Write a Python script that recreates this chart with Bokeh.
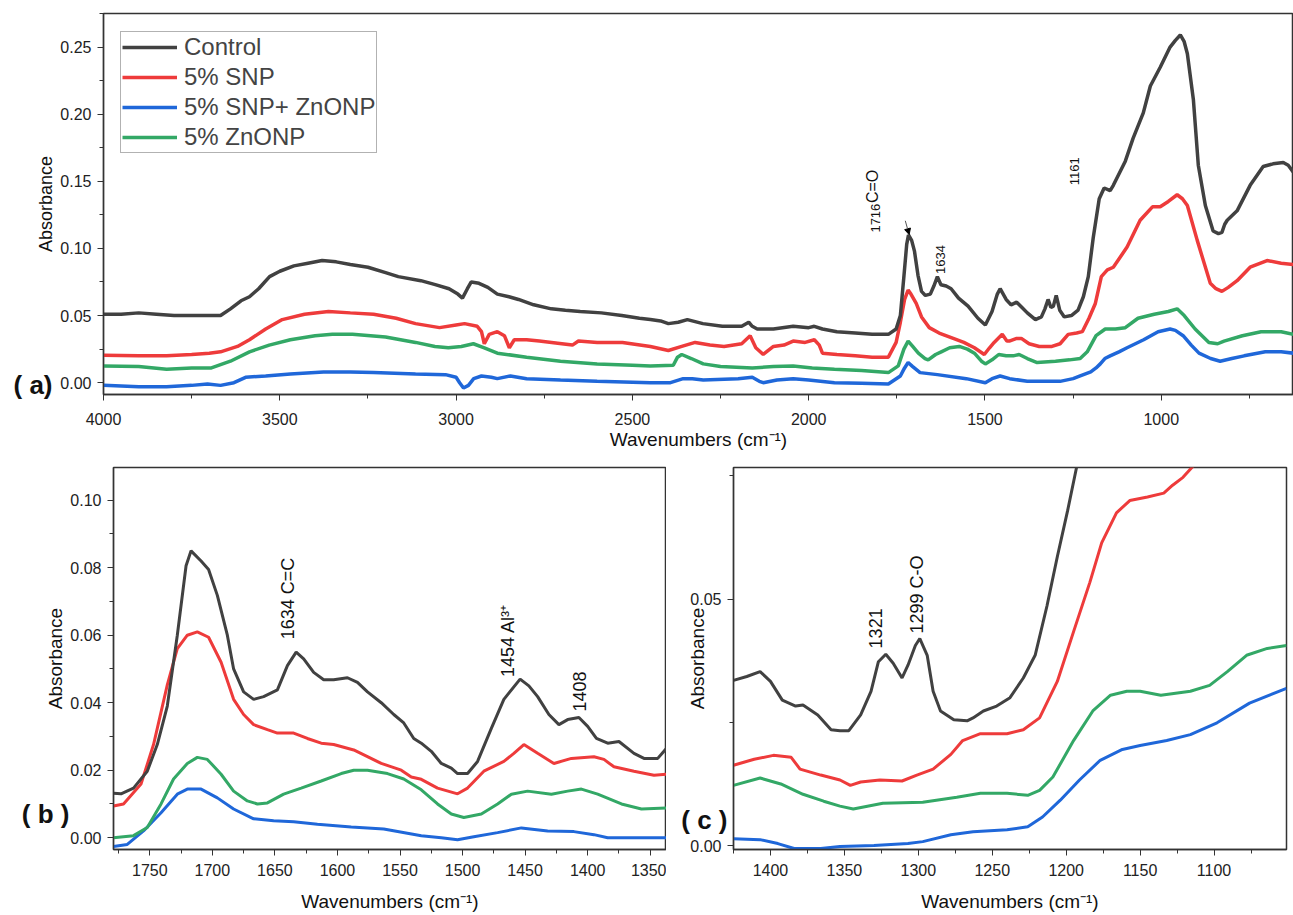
import math
from bokeh.plotting import figure
from bokeh.models import (Range1d, Legend, LegendItem, Label, Arrow, NormalHead, LinearAxis,
                          FixedTicker, SingleIntervalTicker, PrintfTickFormatter)
from bokeh.layouts import column, row
from bokeh.embed import file_html
from bokeh.resources import INLINE

FONT = "Liberation Sans"
C_CTRL = "#414141"
C_RED = "#ee3b3b"
C_BLUE = "#1f67d9"
C_GREEN = "#33a866"

series_names = ["Control", "5% SNP", "5% SNP+ ZnONP", "5% ZnONP"]
panel_tags = ["( a)", "( b )", "( c )"]

# ---------------- Panel (a): full spectra ----------------
ctrl_a_x = [4000, 3950, 3900, 3850, 3800, 3750, 3700, 3668, 3640, 3610, 3586, 3560, 3529, 3500, 3460, 3420,
            3380, 3340, 3300, 3250, 3200, 3164, 3100, 3059, 3020, 2995, 2982, 2968, 2957, 2935, 2910, 2883,
            2850, 2823, 2780, 2730, 2690, 2648, 2588, 2530, 2480, 2449, 2420, 2398, 2370, 2344, 2300, 2245,
            2190, 2170, 2160, 2146, 2100, 2044, 2000, 1984, 1961, 1920, 1868, 1820, 1774, 1752, 1740, 1730,
            1722, 1717, 1708, 1700, 1690, 1680, 1669, 1655, 1645, 1635, 1625, 1610, 1596, 1575, 1548, 1520,
            1499, 1480, 1465, 1457, 1440, 1426, 1410, 1395, 1380, 1357, 1340, 1330, 1321, 1313, 1306, 1298,
            1288, 1275, 1255, 1236, 1221, 1207, 1193, 1176, 1162, 1145, 1136, 1102, 1080, 1051, 1031, 1003,
            975, 960, 946, 935, 926, 909, 895, 875, 853, 838, 828, 820, 813, 785, 748, 711, 683, 654, 640, 626]
ctrl_a_y = [0.051, 0.051, 0.052, 0.051, 0.050, 0.050, 0.050, 0.050, 0.055, 0.061, 0.064, 0.070, 0.079, 0.083,
            0.087, 0.089, 0.091, 0.090, 0.088, 0.086, 0.082, 0.079, 0.076, 0.073, 0.070, 0.066, 0.063, 0.070,
            0.075, 0.074, 0.071, 0.066, 0.064, 0.062, 0.058, 0.055, 0.054, 0.053, 0.052, 0.050, 0.048, 0.047,
            0.046, 0.044, 0.045, 0.047, 0.044, 0.042, 0.042, 0.045, 0.042, 0.040, 0.040, 0.042, 0.041, 0.042,
            0.040, 0.038, 0.037, 0.036, 0.036, 0.040, 0.050, 0.079, 0.103, 0.110, 0.106, 0.098, 0.080, 0.068,
            0.065, 0.066, 0.072, 0.079, 0.073, 0.072, 0.070, 0.063, 0.057, 0.048, 0.043, 0.053, 0.066, 0.070,
            0.062, 0.058, 0.060, 0.056, 0.052, 0.047, 0.049, 0.055, 0.062, 0.056, 0.057, 0.065, 0.054, 0.049,
            0.050, 0.054, 0.064, 0.079, 0.108, 0.137, 0.145, 0.143, 0.147, 0.165, 0.182, 0.201, 0.221, 0.235,
            0.250, 0.255, 0.259, 0.254, 0.245, 0.211, 0.162, 0.132, 0.113, 0.111, 0.112, 0.118, 0.121, 0.128,
            0.147, 0.161, 0.163, 0.164, 0.162, 0.157]

red_a_x = [4000, 3900, 3821, 3750, 3700, 3668, 3620, 3586, 3540, 3493, 3430, 3362, 3300, 3234, 3170, 3115,
           3047, 3000, 2976, 2940, 2928, 2920, 2906, 2883, 2863, 2849, 2835, 2800, 2764, 2700, 2670, 2653,
           2600, 2528, 2449, 2398, 2360, 2322, 2280, 2240, 2190, 2166, 2150, 2129, 2100, 2070, 2044, 2010,
           1984, 1970, 1961, 1920, 1868, 1820, 1774, 1752, 1740, 1728, 1718, 1710, 1695, 1680, 1658, 1630,
           1590, 1560, 1530, 1502, 1487, 1474, 1451, 1438, 1431, 1410, 1397, 1375, 1346, 1310, 1287, 1264,
           1240, 1224, 1205, 1187, 1170, 1153, 1136, 1097, 1060, 1025, 1003, 980, 955, 940, 926, 898, 861,
           845, 828, 810, 785, 748, 700, 660, 626]
red_a_y = [0.0205, 0.020, 0.020, 0.021, 0.022, 0.023, 0.027, 0.032, 0.040, 0.047, 0.051, 0.053, 0.052, 0.051,
           0.048, 0.044, 0.041, 0.043, 0.044, 0.042, 0.038, 0.029, 0.036, 0.038, 0.035, 0.026, 0.032, 0.032,
           0.031, 0.029, 0.028, 0.031, 0.030, 0.030, 0.027, 0.024, 0.027, 0.030, 0.028, 0.027, 0.029, 0.035,
           0.026, 0.021, 0.027, 0.028, 0.031, 0.030, 0.032, 0.028, 0.022, 0.021, 0.020, 0.019, 0.019, 0.030,
           0.045, 0.062, 0.069, 0.066, 0.059, 0.049, 0.041, 0.037, 0.033, 0.030, 0.026, 0.021, 0.026, 0.030,
           0.036, 0.031, 0.031, 0.033, 0.033, 0.029, 0.027, 0.027, 0.029, 0.036, 0.037, 0.038, 0.048, 0.059,
           0.079, 0.084, 0.086, 0.101, 0.121, 0.131, 0.131, 0.135, 0.140, 0.137, 0.132, 0.106, 0.074, 0.070,
           0.068, 0.071, 0.076, 0.086, 0.091, 0.089, 0.088]

green_a_x = [4000, 3900, 3821, 3750, 3694, 3640, 3586, 3530, 3470, 3400, 3351, 3294, 3200, 3115, 3060, 3022,
             2985, 2951, 2920, 2883, 2800, 2704, 2600, 2500, 2449, 2384, 2372, 2360, 2333, 2299, 2250, 2160,
             2100, 2044, 1990, 1927, 1850, 1774, 1746, 1730, 1718, 1705, 1689, 1670, 1661, 1640, 1624, 1600,
             1573, 1550, 1530, 1510, 1499, 1480, 1461, 1440, 1420, 1403, 1380, 1352, 1300, 1260, 1230, 1210,
             1185, 1159, 1130, 1102, 1066, 1020, 980, 955, 935, 904, 865, 840, 822, 770, 717, 680, 660, 626]
green_a_y = [0.0125, 0.012, 0.010, 0.011, 0.011, 0.016, 0.023, 0.028, 0.032, 0.035, 0.036, 0.036, 0.034,
             0.030, 0.027, 0.026, 0.027, 0.029, 0.026, 0.022, 0.019, 0.016, 0.014, 0.013, 0.0125, 0.013, 0.019,
             0.021, 0.018, 0.014, 0.012, 0.011, 0.012, 0.0125, 0.011, 0.010, 0.009, 0.0075, 0.0125, 0.025,
             0.031, 0.027, 0.022, 0.018, 0.017, 0.021, 0.023, 0.026, 0.027, 0.025, 0.022, 0.016, 0.014, 0.017,
             0.021, 0.020, 0.020, 0.021, 0.018, 0.015, 0.016, 0.017, 0.018, 0.023, 0.035, 0.040, 0.040, 0.041,
             0.048, 0.051, 0.053, 0.055, 0.050, 0.040, 0.030, 0.029, 0.031, 0.035, 0.038, 0.038, 0.038, 0.036]

blue_a_x = [4000, 3900, 3821, 3750, 3705, 3668, 3630, 3597, 3540, 3470, 3376, 3300, 3234, 3115, 3030, 3000,
            2990, 2979, 2965, 2950, 2928, 2900, 2883, 2846, 2800, 2704, 2600, 2449, 2392, 2356, 2330, 2299,
            2200, 2160, 2140, 2129, 2090, 2044, 2000, 1927, 1850, 1774, 1740, 1728, 1718, 1705, 1684, 1635,
            1553, 1499, 1480, 1457, 1430, 1380, 1287, 1250, 1230, 1200, 1185, 1173, 1160, 1145, 1120, 1097,
            1050, 1009, 975, 960, 938, 915, 893, 860, 833, 800, 765, 705, 660, 626]
blue_a_y = [-0.002, -0.003, -0.003, -0.002, -0.001, -0.002, 0.000, 0.004, 0.005, 0.0065, 0.008, 0.008,
            0.0075, 0.0065, 0.006, 0.004, 0.000, -0.004, -0.002, 0.003, 0.005, 0.004, 0.003, 0.005, 0.003,
            0.002, 0.001, 0.000, 0.000, 0.003, 0.003, 0.002, 0.003, 0.004, 0.001, 0.000, 0.002, 0.003, 0.002,
            0.000, -0.0005, -0.001, 0.005, 0.011, 0.015, 0.012, 0.0075, 0.006, 0.003, 0.000, 0.003, 0.005,
            0.003, 0.001, 0.001, 0.003, 0.005, 0.008, 0.011, 0.014, 0.018, 0.020, 0.023, 0.026, 0.032, 0.038,
            0.040, 0.039, 0.035, 0.028, 0.022, 0.018, 0.016, 0.018, 0.020, 0.023, 0.023, 0.022]

# ---------------- Panel (b): 1780-1337 cm-1 ----------------
ctrl_b_x = [1779, 1773, 1763, 1752, 1744, 1736, 1728, 1721, 1717, 1709, 1703, 1696, 1688, 1683, 1675, 1667,
            1659, 1648, 1640, 1633, 1627, 1619, 1611, 1603, 1592, 1584, 1576, 1565, 1555, 1547, 1539, 1533,
            1525, 1517, 1509, 1504, 1496, 1488, 1477, 1467, 1454, 1447, 1440, 1431, 1423, 1416, 1407, 1400,
            1393, 1384, 1375, 1363, 1355, 1344, 1337]
ctrl_b_y = [0.0132, 0.013, 0.0147, 0.0197, 0.0276, 0.039, 0.060, 0.0806, 0.085, 0.082, 0.0795, 0.0718,
            0.060, 0.050, 0.0432, 0.041, 0.0418, 0.0438, 0.051, 0.055, 0.053, 0.049, 0.0468, 0.0468, 0.0474,
            0.046, 0.0432, 0.040, 0.0365, 0.034, 0.0294, 0.028, 0.0256, 0.022, 0.0206, 0.019, 0.019, 0.0226,
            0.0324, 0.041, 0.047, 0.045, 0.0418, 0.0365, 0.0335, 0.035, 0.0356, 0.033, 0.0294, 0.028, 0.0285,
            0.025, 0.0235, 0.0235, 0.0265]
red_b_x = [1779, 1771, 1757, 1747, 1736, 1728, 1720, 1712, 1703, 1693, 1683, 1675, 1667, 1656, 1648, 1635,
           1624, 1613, 1603, 1587, 1576, 1565, 1549, 1541, 1533, 1520, 1504, 1496, 1483, 1467, 1459, 1451,
           1440, 1427, 1413, 1395, 1387, 1379, 1363, 1347, 1337]
red_b_y = [0.0094, 0.010, 0.0159, 0.0276, 0.0453, 0.056, 0.060, 0.061, 0.0594, 0.052, 0.041, 0.0365,
           0.0335, 0.032, 0.031, 0.031, 0.0294, 0.028, 0.0276, 0.026, 0.024, 0.022, 0.020, 0.018, 0.0173,
           0.0147, 0.013, 0.0147, 0.0197, 0.0226, 0.025, 0.0276, 0.025, 0.022, 0.0235, 0.024, 0.0232, 0.021,
           0.0197, 0.0185, 0.0188]
green_b_x = [1779, 1763, 1752, 1741, 1731, 1720, 1712, 1704, 1693, 1683, 1672, 1664, 1656, 1643, 1629, 1613,
             1597, 1587, 1576, 1560, 1547, 1533, 1520, 1509, 1499, 1485, 1472, 1461, 1448, 1429, 1416, 1405,
             1392, 1373, 1357, 1337]
green_b_y = [0.000, 0.0006, 0.003, 0.010, 0.0174, 0.022, 0.0238, 0.0232, 0.0188, 0.0138, 0.0109, 0.010,
             0.0103, 0.0129, 0.0147, 0.0168, 0.019, 0.020, 0.020, 0.019, 0.0174, 0.0142, 0.010, 0.007, 0.006,
             0.007, 0.010, 0.0129, 0.0138, 0.0129, 0.0138, 0.0144, 0.0129, 0.010, 0.0085, 0.0088]
blue_b_x = [1779, 1768, 1755, 1741, 1728, 1720, 1709, 1696, 1683, 1667, 1651, 1635, 1616, 1589, 1563, 1533,
            1517, 1504, 1491, 1472, 1453, 1432, 1411, 1395, 1384, 1360, 1337]
blue_b_y = [-0.0026, -0.002, 0.002, 0.0074, 0.0129, 0.0144, 0.0144, 0.0118, 0.0085, 0.0056, 0.005, 0.0047,
            0.004, 0.0032, 0.0026, 0.0006, 0.0, -0.0006, 0.0003, 0.0015, 0.0029, 0.002, 0.0018, 0.0009, 0.0,
            0.0, 0.0]

# ---------------- Panel (c): 1425-1051 cm-1 ----------------
ctrl_c_x = [1425, 1416, 1407, 1400, 1392, 1383, 1378, 1368, 1359, 1353, 1347, 1339, 1332, 1327, 1322, 1317,
            1311, 1307, 1302, 1299, 1294, 1290, 1285, 1276, 1267, 1263, 1256, 1247, 1238, 1229, 1221, 1213,
            1206, 1199, 1193, 1185]
ctrl_c_y = [0.0335, 0.0343, 0.0353, 0.0333, 0.0295, 0.0283, 0.0285, 0.0265, 0.0235, 0.0233, 0.0233, 0.0265,
            0.0313, 0.0373, 0.0388, 0.037, 0.034, 0.0366, 0.0406, 0.042, 0.0386, 0.0313, 0.0273, 0.0255,
            0.0253, 0.0259, 0.0273, 0.0283, 0.030, 0.034, 0.0386, 0.0486, 0.0586, 0.068, 0.0767, 0.090]
red_c_x = [1425, 1411, 1398, 1386, 1380, 1366, 1353, 1346, 1339, 1326, 1311, 1301, 1290, 1278, 1270, 1258,
           1240, 1229, 1218, 1206, 1195, 1184, 1176, 1166, 1157, 1145, 1134, 1128, 1121, 1115, 1105]
red_c_y = [0.0163, 0.0175, 0.0183, 0.0179, 0.0155, 0.0143, 0.0133, 0.0122, 0.0129, 0.0133, 0.0131, 0.0143,
           0.0155, 0.0185, 0.0213, 0.0227, 0.0227, 0.0235, 0.0259, 0.0333, 0.0434, 0.0534, 0.0614, 0.0675,
           0.070, 0.0707, 0.0715, 0.0731, 0.0747, 0.0767, 0.080]
green_c_x = [1425, 1407, 1393, 1378, 1364, 1353, 1344, 1324, 1297, 1274, 1258, 1240, 1226, 1218, 1209, 1195,
             1182, 1170, 1159, 1150, 1136, 1116, 1103, 1091, 1078, 1064, 1051]
green_c_y = [0.0122, 0.0137, 0.0125, 0.0104, 0.0090, 0.0080, 0.0074, 0.0086, 0.0088, 0.0098, 0.0106, 0.0106,
             0.0102, 0.0112, 0.0139, 0.0213, 0.0273, 0.0305, 0.0313, 0.0313, 0.0305, 0.0313, 0.0325, 0.0353,
             0.0386, 0.040, 0.0406]
blue_c_x = [1425, 1407, 1395, 1384, 1366, 1353, 1330, 1307, 1297, 1278, 1263, 1240, 1226, 1216, 1204, 1191,
            1177, 1162, 1150, 1132, 1116, 1098, 1076, 1051]
blue_c_y = [0.0014, 0.0012, 0.0004, -0.0006, -0.0006, -0.0002, 0.0, 0.0004, 0.0008, 0.0022, 0.0028, 0.0032,
            0.0038, 0.0058, 0.0092, 0.0133, 0.0173, 0.0195, 0.0203, 0.0213, 0.0225, 0.0249, 0.0289, 0.0319]

X_TITLE = "Wavenumbers (cm\u207b\u00b9)"
Y_TITLE = "Absorbance"


def style(p, xint, yint, title_size, xlabel_standoff=4, xtick_standoff=8):
    for ax in (p.xaxis[0], p.yaxis[0]):
        ax.axis_line_color = "#333333"
        ax.axis_line_width = 1.3
        ax.major_tick_line_color = "#333333"
        ax.minor_tick_line_color = "#333333"
        ax.major_tick_out = 6
        ax.major_tick_in = 0
        ax.minor_tick_out = 4
        ax.minor_tick_in = 0
        ax.major_label_text_font = FONT
        ax.major_label_text_font_size = "16px"
        ax.major_label_text_color = "#222222"
        ax.axis_label_text_font = FONT
        ax.axis_label_text_font_style = "normal"
        ax.axis_label_text_font_size = title_size
        ax.axis_label_text_color = "#111111"
        ax.major_label_standoff = 6
    p.xaxis[0].major_label_standoff = xtick_standoff
    p.xaxis[0].ticker = SingleIntervalTicker(interval=xint, num_minor_ticks=2)
    p.yaxis[0].ticker = SingleIntervalTicker(interval=yint, num_minor_ticks=2)
    p.yaxis[0].formatter = PrintfTickFormatter(format="%.2f")
    p.xaxis[0].axis_label = X_TITLE
    p.yaxis[0].axis_label = None
    p.xaxis[0].axis_label_standoff = xlabel_standoff
    p.xgrid.visible = False
    p.ygrid.visible = False
    p.outline_line_color = "#333333"
    p.outline_line_width = 1.5
    p.background_fill_color = "white"
    p.border_fill_color = "white"


def add_tag_axis(p, y_tag, tag, tag_standoff, ylabel_standoff, ylabel_size):
    """Second left axis carrying the panel tag as its only label, plus the y title."""
    ax = LinearAxis(ticker=FixedTicker(ticks=[y_tag], minor_ticks=[]),
                    major_label_overrides={y_tag: tag})
    ax.axis_line_color = None
    ax.major_tick_line_color = None
    ax.minor_tick_line_color = None
    ax.major_tick_out = 0
    ax.major_tick_in = 0
    ax.major_label_standoff = tag_standoff
    ax.major_label_text_font = FONT
    ax.major_label_text_font_size = "26px"
    ax.major_label_text_font_style = "bold"
    ax.major_label_text_color = "#111111"
    ax.axis_label = Y_TITLE
    ax.axis_label_text_font = FONT
    ax.axis_label_text_font_style = "normal"
    ax.axis_label_text_font_size = ylabel_size
    ax.axis_label_text_color = "#111111"
    ax.axis_label_standoff = ylabel_standoff
    p.add_layout(ax, "left")


def vlabel(p, x, y, text, size):
    p.add_layout(Label(x=x, y=y, text=text, angle=math.pi / 2, text_align="left",
                       text_baseline="middle", text_font=FONT, text_font_size=size,
                       text_color="#111111"))


colors = [C_CTRL, C_RED, C_BLUE, C_GREEN]
order = [2, 3, 1, 0]

# ---------- figure (a) ----------
pa = figure(width=1293, height=452, output_backend="svg", toolbar_location=None,
            x_range=Range1d(4000, 625), y_range=Range1d(-0.0088, 0.275),
            min_border_left=103, min_border_right=0, min_border_top=13, min_border_bottom=53)
style(pa, 500, 0.05, "19px", xlabel_standoff=1, xtick_standoff=12)
add_tag_axis(pa, -0.0015, panel_tags[0], 5, -45, "18px")
data_a = [(ctrl_a_x, ctrl_a_y), (red_a_x, red_a_y), (blue_a_x, blue_a_y), (green_a_x, green_a_y)]
rends = {}
for i in order:
    xs, ys = data_a[i]
    rends[i] = pa.line(xs, ys, line_color=colors[i], line_width=3.5)
legend = Legend(items=[LegendItem(label=series_names[i], renderers=[rends[i]]) for i in range(4)],
                location=(17, 241), label_text_font=FONT, label_text_font_size="24px",
                glyph_width=55, glyph_height=28, label_height=28, spacing=2, padding=1, margin=0,
                label_standoff=7, border_line_color="#666666", border_line_width=1.5,
                background_fill_alpha=1.0)
pa.add_layout(legend)
vlabel(pa, 1811, 0.1118, "1716", "13px")
vlabel(pa, 1820, 0.1338, "C=O", "16px")
vlabel(pa, 1627, 0.081, "1634", "13px")
vlabel(pa, 1247, 0.147, "1161", "13px")
pa.add_layout(Arrow(end=NormalHead(size=6, fill_color="black", line_color="black"),
                    x_start=1726, y_start=0.1206, x_end=1715, y_end=0.1103,
                    line_color="#555555", line_width=1))

# ---------- figure (b) ----------
pb = figure(width=666, height=463, output_backend="svg", toolbar_location=None,
            x_range=Range1d(1779, 1337), y_range=Range1d(-0.0035, 0.1097),
            min_border_left=113, min_border_right=0, min_border_top=12, min_border_bottom=66)
style(pb, 50, 0.02, "19px", xlabel_standoff=12)
add_tag_axis(pb, 0.0071, panel_tags[1], -2, -47, "19px")
data_b = [(ctrl_b_x, ctrl_b_y), (red_b_x, red_b_y), (blue_b_x, blue_b_y), (green_b_x, green_b_y)]
for i in order:
    xs, ys = data_b[i]
    pb.line(xs, ys, line_color=colors[i], line_width=3)
vlabel(pb, 1639.6, 0.0588, "1634 C=C", "18px")
vlabel(pb, 1464, 0.0476, "1454 Al\u00b3\u207a", "18px")
vlabel(pb, 1406.8, 0.0374, "1408", "18px")

# ---------- figure (c) ----------
pc = figure(width=627, height=463, output_backend="svg", toolbar_location=None,
            x_range=Range1d(1425, 1051), y_range=Range1d(-0.0008, 0.0767),
            min_border_left=67, min_border_right=7, min_border_top=15, min_border_bottom=62)
style(pc, 50, 0.05, "19px", xlabel_standoff=12)
add_tag_axis(pc, 0.0052, panel_tags[2], -40, -30, "19px")
data_c = [(ctrl_c_x, ctrl_c_y), (red_c_x, red_c_y), (blue_c_x, blue_c_y), (green_c_x, green_c_y)]
for i in order:
    xs, ys = data_c[i]
    pc.line(xs, ys, line_color=colors[i], line_width=3)
vlabel(pc, 1329, 0.040, "1321", "18px")
vlabel(pc, 1300.7, 0.043, "1299 C-O", "18px")

layout = column(pa, row(pb, pc, spacing=0), spacing=0)
open("out.html", "w").write(file_html(layout, INLINE))
